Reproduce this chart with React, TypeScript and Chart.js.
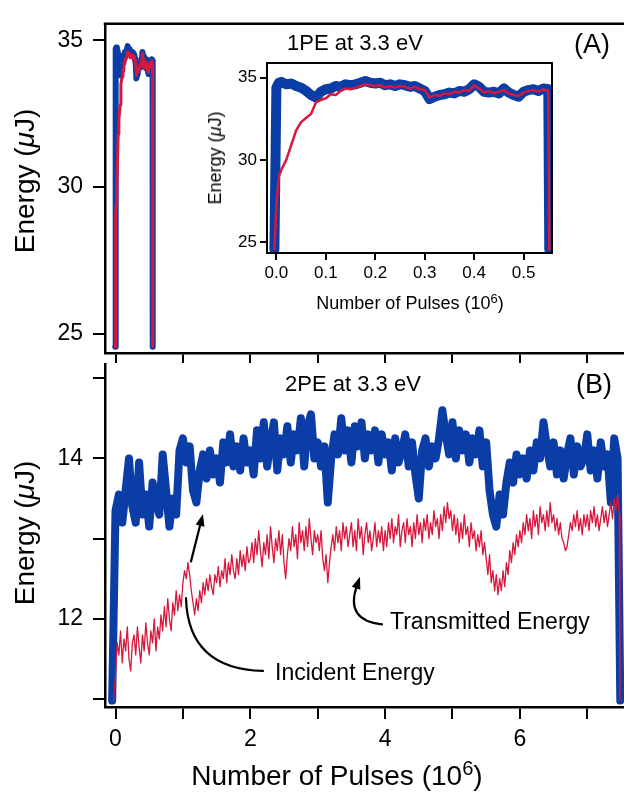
import React, { useEffect, useRef } from "react";
import { Chart, registerables } from "chart.js";

Chart.register(...registerables);

const FONT = "'Liberation Sans', Arial, Helvetica, sans-serif";
const BLUE = "#0a3da6";
const RED = "#d6183d";
const INK = "#000";

// ---------- shared main x axis (Number of Pulses, 10^6)
const MAIN_X_MIN = -0.156;
const MAIN_X_MAX = 7.545;
const MAIN_X_TICKS = [0, 1, 2, 3, 4, 5, 6, 7];
const MAIN_X_LABELLED = [0, 2, 4, 6];

// ---------- panel A (1PE)
const A_Y_MIN = 24.34;
const A_Y_MAX = 35.56;
const A_Y_TICKS = [25, 30, 35];

// ---------- inset of panel A
const INSET_X_MIN = -0.019;
const INSET_X_MAX = 0.5575;
const INSET_X_TICKS = [0, 0.1, 0.2, 0.3, 0.4, 0.5];
const INSET_Y_MIN = 24.33;
const INSET_Y_MAX = 35.9;
const INSET_Y_TICKS = [25, 30, 35];

// 1PE data (10^6 pulses, µJ)
const PE1_X = [
  -0.004, 0, 0.005, 0.01, 0.02, 0.03, 0.04, 0.05, 0.06, 0.07, 0.08, 0.09, 0.1,
  0.11, 0.12, 0.13, 0.14, 0.15, 0.16, 0.17, 0.18, 0.19, 0.2, 0.21, 0.22, 0.23,
  0.24, 0.25, 0.26, 0.27, 0.28, 0.29, 0.3, 0.31, 0.32, 0.33, 0.34, 0.35, 0.36,
  0.37, 0.38, 0.39, 0.4, 0.41, 0.42, 0.43, 0.44, 0.45, 0.46, 0.47, 0.48, 0.49,
  0.5, 0.51, 0.52, 0.53, 0.54, 0.55, 0.552,
];
const PE1_INCIDENT = [
  24.55, 34.4, 34.7, 34.75, 34.6, 34.65, 34.5, 34.4, 34.2, 33.95, 33.8, 34.15,
  34.3, 34.35, 34.5, 34.45, 34.6, 34.55, 34.6, 34.7, 34.8, 34.7, 34.65, 34.7,
  34.55, 34.6, 34.5, 34.6, 34.55, 34.45, 34.5, 34.35, 34.2, 33.7, 33.85, 33.95,
  34.0, 34.1, 34.05, 34.2, 34.15, 34.3, 34.6, 34.45, 34.15, 34.1, 34.15, 34.05,
  34.35, 34.1, 33.95, 33.85, 34.15, 34.25, 34.3, 34.2, 34.35, 34.3, 24.55,
];
const PE1_TRANSMITTED = [
  24.55, 27.2, 29.0, 29.4, 30.0, 30.9, 31.8, 32.3, 32.55, 32.8, 33.5, 33.65,
  33.75, 34.0, 33.95, 34.2, 34.35, 34.3, 34.4, 34.5, 34.6, 34.55, 34.5, 34.55,
  34.4, 34.5, 34.4, 34.5, 34.45, 34.35, 34.45, 34.3, 34.25, 33.8, 33.95, 33.9,
  34.05, 34.0, 34.15, 34.1, 34.25, 34.2, 34.55, 34.35, 34.1, 34.2, 34.05, 34.15,
  34.25, 34.05, 33.95, 33.9, 34.1, 34.2, 34.25, 34.15, 34.3, 34.2, 24.55,
];

// ---------- panel B (2PE)
const B_Y_MIN = 10.9;
const B_Y_MAX = 15.18;
const B_Y_TICKS = [11, 12, 13, 14, 15];
const B_Y_LABELLED = [12, 14];

const PE2_START_X = -0.05;
const PE2_END_X = 7.49;
const PE2_BASE = 10.98;

const PE2_INCIDENT_STEP = 0.05; // sampled every 0.05 x 10^6 pulses from 0
const PE2_INCIDENT = [
  13.35, 13.55, 13.2, 13.6, 14.0, 13.4, 13.2, 13.95, 13.3, 13.55,
  13.15, 13.7, 13.45, 13.3, 14.05, 13.6, 13.15, 13.5, 13.3, 14.1,
  14.25, 13.95, 14.15, 13.6, 13.45, 13.85, 14.05, 13.75, 14.1, 13.8,
  14.0, 13.7, 14.2, 13.95, 14.3, 13.9, 14.15, 13.85, 14.25, 13.95,
  14.1, 13.8, 14.35, 14.0, 14.45, 13.9, 14.2, 14.45, 13.85, 14.25,
  14.05, 14.4, 13.95, 14.3, 14.1, 14.5, 13.9, 14.4, 14.55, 14.0,
  14.2, 13.9, 14.15, 13.45, 14.0, 14.3, 14.05, 14.5, 14.1, 14.35,
  13.95, 14.4, 14.15, 14.45, 14.0, 14.3, 14.1, 14.35, 13.95, 14.3,
  14.05, 14.2, 13.85, 14.25, 13.95, 14.1, 14.3, 13.9, 14.2, 13.8,
  13.5, 14.1, 14.25, 13.9, 14.15, 14.0, 14.25, 14.6, 14.3, 14.05,
  14.45, 14.0, 14.35, 14.1, 14.3, 13.95, 14.25, 14.05, 14.35, 13.9,
  14.2, 13.6, 13.3, 13.15, 13.55, 13.3, 13.7, 13.95, 13.7, 14.05,
  13.8, 14.0, 13.75, 14.1, 13.85, 14.2, 14.0, 14.45, 14.15, 13.9,
  14.2, 13.8, 14.1, 13.75, 14.05, 14.25, 13.8, 14.15, 13.9, 14.0,
  14.3, 13.85, 14.1, 13.75, 14.2, 13.9, 14.05, 13.45, 14.25, 14.0,
];

const PE2_TRANSMITTED_STEP = 0.025; // sampled every 0.025 x 10^6 pulses from 0
const PE2_TRANSMITTED = [
  11.3, 11.7, 11.55, 11.85, 11.45, 11.75, 11.6, 11.9, 11.5, 11.35, 11.7, 11.8, 11.55, 11.9, 11.65, 11.45, 11.8, 11.6, 11.95, 11.7,
  11.55, 11.85, 11.7, 12.0, 11.6, 11.9, 11.75, 12.05, 11.85, 12.15, 11.9, 12.25, 12.0, 11.85, 12.2, 12.05, 12.35, 12.1, 12.3, 12.15,
  12.45, 12.6, 12.5, 12.7, 12.55, 12.35, 12.2, 12.05, 12.25, 12.1, 12.35, 12.2, 12.45, 12.3, 12.5, 12.35, 12.55, 12.4, 12.3, 12.55,
  12.45, 12.65, 12.4, 12.6, 12.5, 12.75, 12.45, 12.7, 12.55, 12.8, 12.6, 12.5, 12.75, 12.55, 12.85, 12.65, 12.8, 12.6, 12.9, 12.7,
  12.75, 12.95, 12.7, 13.0, 12.8, 13.1, 12.85, 12.65, 12.95, 12.8, 13.05, 12.75, 13.15, 12.9, 12.7, 13.0, 12.85, 13.1, 12.8, 13.05,
  12.7, 12.5, 12.8, 13.0, 12.85, 13.15, 12.9, 13.05, 12.75, 13.2, 12.95, 13.1, 12.85, 13.15, 12.9, 13.25, 13.0, 12.8, 13.1, 12.95,
  13.05, 12.85, 13.1, 12.75, 12.6, 12.8, 12.45, 12.7, 12.9, 13.05, 12.85, 13.15, 12.95, 13.1, 12.85, 13.2, 13.0, 13.15, 12.9, 13.05,
  13.2, 12.9, 13.1, 12.85, 13.25, 13.0, 13.15, 12.8, 13.05, 13.2, 12.95, 13.1, 12.85, 13.0, 13.2, 12.9, 13.1, 12.95, 13.15, 12.85,
  13.1, 12.9, 13.2, 13.0, 13.25, 12.95, 13.15, 13.05, 13.3, 12.9, 13.1, 13.2, 12.95, 13.25, 13.05, 13.15, 12.9, 13.2, 13.0, 13.3,
  13.05, 13.2, 12.95, 13.25, 13.1, 13.3, 13.0, 13.2, 13.05, 13.35, 13.15, 13.25, 13.0, 13.3, 13.1, 13.4, 13.2, 13.45, 13.25, 13.35,
  13.1, 13.3, 13.05, 13.25, 12.95, 13.2, 13.0, 13.3, 13.05, 13.15, 12.9, 13.2, 13.0, 13.1, 12.85, 13.05, 12.9, 13.1, 12.8, 12.95,
  12.75, 12.55, 12.8, 12.45, 12.6, 12.35, 12.55, 12.3, 12.5, 12.35, 12.6, 12.4, 12.7, 12.55, 12.85, 12.7, 12.95, 12.8, 13.05, 12.9,
  13.1, 12.95, 13.2, 13.05, 13.3, 13.1, 13.25, 13.0, 13.35, 13.15, 13.3, 13.05, 13.4, 13.2, 13.3, 13.1, 13.35, 13.15, 13.45, 13.2,
  13.3, 13.1, 13.25, 13.05, 13.2, 13.0, 12.95, 12.85, 12.9, 13.05, 13.2, 13.1, 13.3, 13.15, 13.35, 13.1, 13.25, 13.05, 13.3, 13.15,
  13.3, 13.1, 13.35, 13.2, 13.4, 13.15, 13.3, 13.1, 13.25, 13.4, 13.2, 13.35, 13.15, 13.3, 13.45, 13.25, 13.5, 13.35, 13.55, 13.3,
];

// annotation arrows in data units of panel B: [start, control, end]
const INCIDENT_CURVE = [[2.188, 11.35], [1.076, 11.375], [1.046, 12.257]];
const INCIDENT_SHAFT = [[1.12, 12.716], [1.298, 13.308]];
const TRANSMITTED_CURVE = [[3.954, 11.931], [3.405, 11.979], [3.627, 12.523]];

// ---------- helpers
const pairs = (xs: number[], ys: number[]) => ys.map((y, i) => ({ x: xs[i], y }));
const stepped = (step: number, ys: number[]) => ys.map((y, i) => ({ x: +(i * step).toFixed(4), y }));

const setTicks = (vals: number[]) => (s: any) => {
  s.ticks = vals.map((v) => ({ value: v }));
};

const lineDs = (data: any[], color: string, width: number, order: number) => ({
  data,
  borderColor: color,
  backgroundColor: color,
  borderWidth: width,
  pointRadius: 0,
  pointHoverRadius: 0,
  tension: 0,
  fill: false,
  borderCapStyle: "round",
  borderJoinStyle: "round",
  order,
});

const gridOpts = (len: number, lw: number) => ({
  drawOnChartArea: false,
  drawTicks: true,
  tickLength: len,
  color: INK,
  lineWidth: lw,
});

const baseOptions = (padding: any) => ({
  animation: false,
  responsive: false,
  devicePixelRatio: 1,
  layout: { padding },
  events: [],
  plugins: { legend: { display: false }, tooltip: { enabled: false }, title: { display: false } },
});

const topLine = {
  id: "topLine",
  afterDraw(chart: any) {
    const { ctx, chartArea: a } = chart;
    ctx.save();
    ctx.strokeStyle = INK;
    ctx.lineWidth = 2.5;
    ctx.beginPath();
    ctx.moveTo(a.left - 1.25, a.top);
    ctx.lineTo(a.right + 2, a.top);
    ctx.stroke();
    ctx.restore();
  },
};

const boxFrame = {
  id: "boxFrame",
  afterDraw(chart: any) {
    const { ctx, chartArea: a } = chart;
    ctx.save();
    ctx.strokeStyle = INK;
    ctx.lineWidth = 2;
    ctx.strokeRect(a.left, a.top, a.right - a.left, a.bottom - a.top);
    ctx.restore();
  },
};

function head(ctx: any, from: number[], tip: number[]) {
  const ang = Math.atan2(tip[1] - from[1], tip[0] - from[0]);
  const L = 12;
  const W = 4.5;
  const bx = tip[0] - L * Math.cos(ang);
  const by = tip[1] - L * Math.sin(ang);
  ctx.beginPath();
  ctx.moveTo(tip[0], tip[1]);
  ctx.lineTo(bx + W * Math.sin(ang), by - W * Math.cos(ang));
  ctx.lineTo(bx - W * Math.sin(ang), by + W * Math.cos(ang));
  ctx.closePath();
  ctx.fill();
}

const arrows = {
  id: "arrows",
  afterDraw(chart: any) {
    const { ctx } = chart;
    const sx = chart.scales.x;
    const sy = chart.scales.y;
    const P = (p: number[]) => [sx.getPixelForValue(p[0]), sy.getPixelForValue(p[1])];
    ctx.save();
    ctx.strokeStyle = INK;
    ctx.fillStyle = INK;
    ctx.lineWidth = 2.2;
    ctx.lineCap = "round";
    const [a, b, c] = INCIDENT_CURVE.map(P);
    ctx.beginPath();
    ctx.moveTo(a[0], a[1]);
    ctx.quadraticCurveTo(b[0], b[1], c[0], c[1]);
    ctx.stroke();
    const [s, t] = INCIDENT_SHAFT.map(P);
    const ang = Math.atan2(t[1] - s[1], t[0] - s[0]);
    ctx.beginPath();
    ctx.moveTo(s[0], s[1]);
    ctx.lineTo(t[0] - 10 * Math.cos(ang), t[1] - 10 * Math.sin(ang));
    ctx.stroke();
    head(ctx, s, t);
    const [d, e, f] = TRANSMITTED_CURVE.map(P);
    const ang2 = Math.atan2(f[1] - e[1], f[0] - e[0]);
    ctx.beginPath();
    ctx.moveTo(d[0], d[1]);
    ctx.quadraticCurveTo(e[0], e[1], f[0] - 10 * Math.cos(ang2), f[1] - 10 * Math.sin(ang2));
    ctx.stroke();
    head(ctx, e, f);
    ctx.restore();
  },
};

// ---------- chart configs
function buildTop() {
  return {
    type: "line",
    data: {
      datasets: [
        lineDs(pairs(PE1_X, PE1_TRANSMITTED), RED, 3, 0),
        lineDs(pairs(PE1_X, PE1_INCIDENT), BLUE, 6, 1),
      ],
    },
    options: {
      ...baseOptions({ top: 13, right: 0, left: 0, bottom: 0 }),
      scales: {
        x: {
          type: "linear",
          min: MAIN_X_MIN,
          max: MAIN_X_MAX,
          afterBuildTicks: setTicks(MAIN_X_TICKS),
          afterFit: (s: any) => { s.height = 47; },
          ticks: { display: false },
          grid: gridOpts(10, 2),
          border: { display: true, color: INK, width: 2.5 },
        },
        y: {
          type: "linear",
          min: A_Y_MIN,
          max: A_Y_MAX,
          afterBuildTicks: setTicks(A_Y_TICKS),
          afterFit: (s: any) => { s.width = 105; },
          ticks: { color: INK, font: { family: FONT, size: 23 }, padding: 10 },
          grid: gridOpts(12, 2),
          border: { display: true, color: INK, width: 2.5 },
        },
      },
    },
    plugins: [topLine],
  };
}

function buildInset() {
  return {
    type: "line",
    data: {
      datasets: [
        lineDs(pairs(PE1_X, PE1_TRANSMITTED), RED, 2.5, 0),
        lineDs(pairs(PE1_X, PE1_INCIDENT), BLUE, 10, 1),
      ],
    },
    options: {
      ...baseOptions({ top: 43, right: 18, left: 0, bottom: 0 }),
      scales: {
        x: {
          type: "linear",
          min: INSET_X_MIN,
          max: INSET_X_MAX,
          afterBuildTicks: setTicks(INSET_X_TICKS),
          afterFit: (s: any) => { s.height = 37; },
          ticks: {
            color: INK,
            font: { family: FONT, size: 17 },
            padding: 3,
            maxRotation: 0,
            autoSkip: false,
            callback: (v: number) => Number(v).toFixed(1),
          },
          grid: gridOpts(7, 2),
          border: { display: false },
        },
        y: {
          type: "linear",
          min: INSET_Y_MIN,
          max: INSET_Y_MAX,
          afterBuildTicks: setTicks(INSET_Y_TICKS),
          afterFit: (s: any) => { s.width = 77; },
          ticks: { color: INK, font: { family: FONT, size: 17 }, padding: 3 },
          grid: gridOpts(7, 2),
          border: { display: false },
        },
      },
    },
    plugins: [boxFrame],
  };
}

function buildBottom() {
  const inc = [
    { x: PE2_START_X, y: PE2_BASE },
    ...stepped(PE2_INCIDENT_STEP, PE2_INCIDENT),
    { x: PE2_END_X, y: PE2_BASE },
  ];
  const tr = [
    { x: PE2_START_X + 0.02, y: PE2_BASE },
    ...stepped(PE2_TRANSMITTED_STEP, PE2_TRANSMITTED),
    { x: PE2_END_X - 0.005, y: PE2_BASE },
  ];
  return {
    type: "line",
    data: {
      datasets: [lineDs(tr, RED, 1.3, 0), lineDs(inc, BLUE, 8, 1)],
    },
    options: {
      ...baseOptions({ top: 13, right: 0, left: 0, bottom: 0 }),
      scales: {
        x: {
          type: "linear",
          min: MAIN_X_MIN,
          max: MAIN_X_MAX,
          afterBuildTicks: setTicks(MAIN_X_TICKS),
          afterFit: (s: any) => { s.height = 88; },
          ticks: {
            color: INK,
            font: { family: FONT, size: 23 },
            padding: 7,
            maxRotation: 0,
            autoSkip: false,
            callback: (v: number) => (MAIN_X_LABELLED.includes(v) ? String(v) : ""),
          },
          grid: gridOpts(12, 2),
          border: { display: true, color: INK, width: 2.5 },
        },
        y: {
          type: "linear",
          min: B_Y_MIN,
          max: B_Y_MAX,
          afterBuildTicks: setTicks(B_Y_TICKS),
          afterFit: (s: any) => { s.width = 105; },
          ticks: {
            color: INK,
            font: { family: FONT, size: 23 },
            padding: 10,
            callback: (v: number) => (B_Y_LABELLED.includes(v) ? String(v) : ""),
          },
          grid: gridOpts(12, 2),
          border: { display: true, color: INK, width: 2.5 },
        },
      },
    },
    plugins: [arrows],
  };
}

// ---------- components
function ChartCanvas(props: { left: number; top: number; width: number; height: number; build: () => any }) {
  const ref = useRef<HTMLCanvasElement | null>(null);
  useEffect(() => {
    const chart = new Chart(ref.current as HTMLCanvasElement, props.build());
    return () => chart.destroy();
  }, []);
  return (
    <canvas
      ref={ref}
      width={props.width}
      height={props.height}
      style={{ position: "absolute", left: props.left, top: props.top, width: props.width, height: props.height }}
    />
  );
}

function Txt(props: { x: number; y: number; size: number; rotate?: boolean; align?: "center" | "left"; children: any }) {
  const tx = props.align === "left" ? "0" : "-50%";
  return (
    <div
      style={{
        position: "absolute",
        left: props.x,
        top: props.y,
        fontSize: props.size,
        lineHeight: 1,
        whiteSpace: "nowrap",
        transform: `translate(${tx}, -50%)${props.rotate ? " rotate(-90deg)" : ""}`,
        transformOrigin: props.rotate ? "center center" : undefined,
      }}
    >
      {props.children}
    </div>
  );
}

const Sup = ({ children }: { children: any }) => (
  <span style={{ fontSize: "0.72em", position: "relative", top: "-0.5em" }}>{children}</span>
);

const EnergyLabel = () => (
  <>
    Energy (<i>μ</i>J)
  </>
);

export default function App() {
  return (
    <div
      style={{
        position: "absolute",
        left: 0,
        top: 0,
        width: 624,
        height: 795,
        overflow: "hidden",
        background: "#fff",
        fontFamily: FONT,
        color: INK,
      }}
    >
      <ChartCanvas left={0} top={0} width={624} height={400} build={buildTop} />
      <ChartCanvas left={0} top={340} width={624} height={455} build={buildBottom} />
      <ChartCanvas left={190} top={20} width={380} height={270} build={buildInset} />

      <Txt x={25} y={181} size={28} rotate>
        <EnergyLabel />
      </Txt>
      <Txt x={25} y={533} size={28} rotate>
        <EnergyLabel />
      </Txt>
      <Txt x={337} y={776} size={28}>
        Number of Pulses (10<Sup>6</Sup>)
      </Txt>

      <Txt x={215} y={158} size={18} rotate>
        <EnergyLabel />
      </Txt>
      <Txt x={410} y={303} size={18}>
        Number of Pulses (10<Sup>6</Sup>)
      </Txt>

      <Txt x={355} y={43} size={22}>1PE at 3.3 eV</Txt>
      <Txt x={592} y={44} size={27}>(A)</Txt>
      <Txt x={353} y={384} size={22}>2PE at 3.3 eV</Txt>
      <Txt x={594} y={384} size={27}>(B)</Txt>
      <Txt x={390} y={621} size={23} align="left">Transmitted Energy</Txt>
      <Txt x={275} y={672} size={23} align="left">Incident Energy</Txt>
    </div>
  );
}
